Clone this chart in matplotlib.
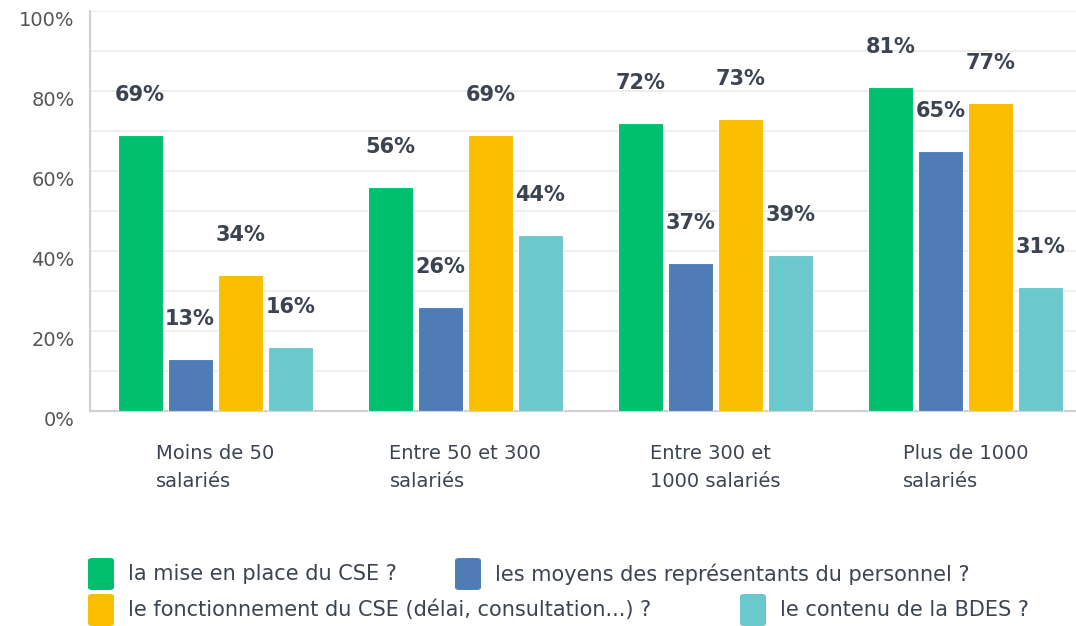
import numpy as np
import matplotlib
matplotlib.use('Agg')
import matplotlib.pyplot as plt
import matplotlib.transforms as mtransforms
from matplotlib.patches import FancyBboxPatch

categories = ["Moins de 50\nsalariés", "Entre 50 et 300\nsalariés",
              "Entre 300 et\n1000 salariés", "Plus de 1000\nsalariés"]
series = ["la mise en place du CSE ?",
          "les moyens des représentants du personnel ?",
          "le fonctionnement du CSE (délai, consultation...) ?",
          "le contenu de la BDES ?"]
mise_en_place = [69, 56, 72, 81]
moyens = [13, 26, 37, 65]
fonctionnement = [34, 69, 73, 77]
contenu_bdes = [16, 44, 39, 31]
values = [mise_en_place, moyens, fonctionnement, contenu_bdes]
colors = ["#00BF6F", "#507CB6", "#F9BE00", "#6BC8CD"]
text_color = "#3b4450"

W, H = 1076, 626
fig = plt.figure(figsize=(W / 100, H / 100), dpi=100)
ax = fig.add_axes([90 / W, 1 - 411 / H, 1 - 90 / W, 400 / H])

x = np.arange(len(categories))
offsets = [-0.3, -0.1, 0.1, 0.3]
for vals, off, col in zip(values, offsets, colors):
    bars = ax.bar(x + off, vals, width=0.18, color=col, edgecolor="white",
                  linewidth=0.8, zorder=3)
    for b, v in zip(bars, vals):
        ax.annotate(f"{v}%", (b.get_x() + b.get_width() / 2, v),
                    xytext=(0, 29), textcoords="offset points",
                    ha="center", va="center", fontsize=15, fontweight="bold",
                    color=text_color, zorder=4)

ax.set_ylim(0, 100)
ax.set_xlim(-0.5, 3.44)
ax.set_yticks(range(0, 101, 20))
ax.set_yticks(range(10, 101, 20), minor=True)
ax.set_yticklabels([f"{t}%" for t in range(0, 101, 20)], fontsize=14,
                   color="#555555")
ax.tick_params(axis="y", which="both", length=0, pad=11)
ax.grid(axis="y", which="both", color="#ebebeb", linewidth=1.2, zorder=0)
shift = mtransforms.ScaledTranslation(0, -8 / 100, fig.dpi_scale_trans)
for lbl in ax.get_yticklabels():
    lbl.set_transform(lbl.get_transform() + shift)

ax.set_xticks(x)
ax.set_xticklabels(categories, fontsize=14, color=text_color,
                   multialignment="left", linespacing=1.55)
ax.tick_params(axis="x", length=0, pad=24)

for s in ["top", "right"]:
    ax.spines[s].set_visible(False)
for s in ["left", "bottom"]:
    ax.spines[s].set_color("#d0d0d0")
    ax.spines[s].set_linewidth(1.5)

# legend drawn by hand: rounded swatches + labels, two rows
legend_slots = [(88, 574), (455, 574), (88, 610), (740, 610)]
for (lx, ly), label, col in zip(legend_slots, series, colors):
    fig.add_artist(FancyBboxPatch((lx / W, (H - ly - 16) / H), 26 / W, 32 / H,
                                  boxstyle="round,pad=0,rounding_size=0.004",
                                  transform=fig.transFigure, facecolor=col,
                                  edgecolor="none"))
    fig.text((lx + 40) / W, 1 - ly / H, label, fontsize=15, color=text_color,
             ha="left", va="center")

fig.savefig("out.png", dpi=100)
